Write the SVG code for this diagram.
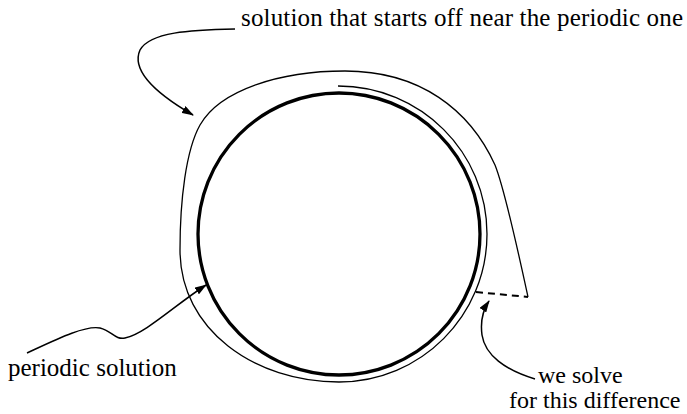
<svg xmlns="http://www.w3.org/2000/svg" width="687" height="414" viewBox="0 0 687 414">
<defs>
<marker id="ah" markerWidth="12" markerHeight="8" refX="11" refY="4" orient="auto" markerUnits="userSpaceOnUse">
<path d="M0,0 L12,4 L0,8 Z" fill="#000"/>
</marker>
<style>
.lbl{font-family:"Liberation Serif","Times New Roman",serif;font-size:25px;fill:#000}
.sm{font-size:24px}
.conn{fill:none;stroke:#000;stroke-width:1.5}
.thin{fill:none;stroke:#000;stroke-width:1.3}
.thick{fill:none;stroke:#000;stroke-width:3.3}
.dash{fill:none;stroke:#000;stroke-width:2;stroke-dasharray:7,5}
</style>
</defs>
<rect width="687" height="414" fill="#fff"/>
<g id="periodic">
<circle class="thick" cx="339" cy="234" r="141"/>
</g>
<g id="trajectory">
<path class="thin" d="M338,86 C420.7,86 487,152.3 487,234 C487,315.7 420.7,382 339,382 C255,382 180,330 180,250 C180,200 186,150 200,125 C220,90 280,71 345,71 C420,71 470,110 495,165 C505,190 520,260 528,297"/>
</g>
<g id="difference">
<path class="dash" d="M476,292 L528,297"/>
</g>
<g id="labels">
<text class="lbl" font-family="Liberation Serif, serif" x="241" y="26" textLength="442">solution that starts off near the periodic one</text>
<text class="lbl" font-family="Liberation Serif, serif" x="8" y="376">periodic solution</text>
<text class="lbl sm" font-family="Liberation Serif, serif" x="538" y="383">we solve</text>
<text class="lbl sm" font-family="Liberation Serif, serif" x="509" y="408">for this difference</text>
</g>
<g id="connectors">
<path class="conn" marker-end="url(#ah)" d="M235,29 C190,30 150,32 140,50 C132,68 150,90 193,115"/>
<path class="conn" marker-end="url(#ah)" d="M27,353 C55,340 85,325 100,328 C112,331 115,340 125,338 C145,334 175,305 206,285"/>
<path class="conn" marker-end="url(#ah)" d="M535,379 C505,370 485,355 482,335 C480,320 483,310 489,301"/>
</g>
</svg>
